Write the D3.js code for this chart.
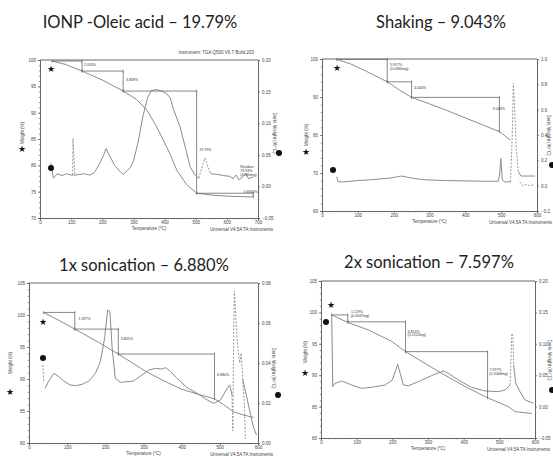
<!DOCTYPE html>
<html>
<head>
<meta charset="utf-8">
<script src="https://cdn.jsdelivr.net/npm/d3@7/dist/d3.min.js"></script>
<style>
  body { margin: 0; background: #fff; }
  svg { display: block; }
</style>
</head>
<body>
<div id="chart"></div>
<script>
// ---- titles ----
const titles = ["IONP -Oleic acid \u2013 19.79%", "Shaking \u2013 9.043%",
                "1x sonication \u2013 6.880%", "2x sonication \u2013 7.597%"];

// ---- tick values ----
const xTicks700 = [0, 100, 200, 300, 400, 500, 600, 700];
const xTicks600 = [0, 100, 200, 300, 400, 500, 600];
const p1WTicks = [70, 75, 80, 85, 90, 95, 100];
const p1DTicks = [-0.05, 0, 0.05, 0.10, 0.15, 0.20];
const p2WTicks = [60, 70, 80, 90, 100];
const p2DTicks = [-0.2, 0, 0.2, 0.4, 0.6, 0.8, 1.0];
const p3WTicks = [80, 85, 90, 95, 100, 105];
const p3DTicks = [0, 0.02, 0.04, 0.06, 0.08];
const p4WTicks = [80, 85, 90, 95, 100, 105];
const p4DTicks = [-0.05, 0, 0.05, 0.10, 0.15, 0.20];

// ---- panel 1: IONP - oleic acid ----
const p1Weight = [[38,99.8],[80,99.2],[135,97.9],[200,96.2],[267,94.1],[310,92.5],[343,90.5],[370,87.8],
  [396,84.8],[420,81.8],[440,79.0],[470,76.4],[503,74.7],[560,74.3],[620,74.1],[685,74.0]];
const p1Deriv = [[35,0.037],[43,0.013],[55,0.02],[70,0.017],[85,0.02],[100,0.018],[105,0.018],[115,0.018],
  [140,0.02],[160,0.018],[175,0.022],[190,0.035],[205,0.05],[212,0.06],[222,0.05],[240,0.033],[260,0.022],
  [268,0.019],[280,0.025],[290,0.03],[300,0.04],[315,0.07],[330,0.11],[345,0.14],[358,0.152],[375,0.153],
  [395,0.15],[410,0.145],[418,0.14],[430,0.12],[450,0.094],[470,0.055],[482,0.031],[495,0.02],[503,0.016],
  [510,0.013]];
const p1DerivDash = [[[105,0.018],[106,0.076],[109,0.045],[112,0.018]],
  [[510,0.013],[520,0.03],[530,0.045],[540,0.03],[548,0.02]]];
const p1DerivTail = [[548,0.02],[570,0.019],[590,0.017],[610,0.016],[620,0.012],[630,0.018],[640,0.01],
  [650,0.015],[660,0.02],[670,0.012],[685,0.015]];
const p1Steps = [[38,99.8,135,97.9],[135,97.9,267,94.1],[267,94.1,503,74.7],[503,74.7,685,74.0]];
const p1Labels = [["2.053%",137,99.05],["3.839%",273,96.3],["19.79%",508,82.9],["Residue:",640,79.7],
  ["73.93%",640,79.0],["(4.960mg)",640,78.3],["0.6663%",650,75.0]];

// ---- panel 2: shaking ----
const p2Weight = [[41,99.9],[80,98.7],[125,96.7],[182,94.0],[215,91.9],[250,89.9],[300,88.2],[350,86.4],
  [400,84.5],[450,82.6],[495,80.9],[525,78.7]];
const p2Deriv = [[41,0.07],[45,0.03],[60,0.03],[100,0.04],[150,0.05],[190,0.06],[222,0.076],[250,0.06],
  [283,0.047],[350,0.04],[450,0.035],[492,0.035],[496,0.1],[499,0.216],[503,0.05],[508,0.03],[525,0.03]];
const p2DerivDash = [[[526,0.03],[531,0.4],[534,0.81],[538,0.6],[542,0.3],[548,0.11]],
  [[552,0.03],[560,0.0],[570,0.01],[580,0.0],[594,0.01]]];
const p2DerivTail = [[548,0.11],[555,0.076],[594,0.076]];
const p2Steps = [[41,99.9,182,94.0],[182,94.0,250,89.9],[250,89.9,495,80.9]];
const p2Labels = [["5.917%",187,98.6],["(0.0380mg)",187,97.4],["4.044%",254,92.5],["9.043%",474,86.8]];

// ---- panel 3: 1x sonication ----
const p3Weight = [[38,100.4],[80,99.1],[120,97.8],[180,95.8],[234,93.9],[300,91.4],[350,89.8],[400,88.4],
  [450,87.5],[486,86.9],[510,86.0],[535,84.9],[560,84.4],[588,84.0]];
const p3Deriv = [[42,0.0273],[51,0.0307],[65,0.0348],[78,0.0332],[91,0.031],[108,0.029],[122,0.0287],
  [139,0.0293],[157,0.031],[174,0.0348],[187,0.0407],[198,0.0523],[206,0.0665],[212,0.0657],[218,0.0473],
  [226,0.0323],[240,0.0303],[274,0.031],[296,0.034],[314,0.0365],[331,0.0373],[349,0.037],[358,0.0377],
  [371,0.0357],[388,0.0323],[414,0.0277],[441,0.0248],[467,0.0215],[484,0.0198],[502,0.0215],[519,0.0273],
  [526,0.029],[532,0.024]];
const p3DerivDash = [[[36,0.039],[39,0.03]],
  [[532,0.024],[534,0.006],[536,0.05],[538,0.076],[541,0.066],[546,0.05],[552,0.04],[556,0.045],
   [560,0.032],[564,0.02],[567,0.002]]];
const p3DerivTail = [[560,0.032],[575,0.019],[588,0.008],[596,0.004]];
const p3Steps = [[38,100.4,120,97.8],[120,97.8,234,93.9],[234,93.9,486,86.9]];
const p3Labels = [["1.397%",127,99.4],["3.801%",238,96.25],["6.880%",490,90.6]];

// ---- panel 4: 2x sonication ----
const p4Weight = [[30,99.6],[75,98.4],[133,97.2],[198,95.4],[237,93.75],[329,90.6],[404,88.2],[467,86.4],
  [525,85.0],[544,84.2],[591,83.9]];
const p4Deriv = [[30,0.146],[33,0.0318],[39,0.0371],[58,0.0408],[86,0.0344],[114,0.0291],[142,0.0307],
  [180,0.0344],[200,0.0424],[215,0.0674],[222,0.053],[231,0.0344],[245,0.0333],[273,0.0397],[310,0.0493],
  [343,0.0567],[357,0.053],[385,0.0424],[422,0.0307],[460,0.0249],[497,0.0238],[516,0.0265],[530,0.0344]];
const p4DerivDash = [[[530,0.0344],[533,0.0822],[535,0.1167],[538,0.114],[540,0.0663]]];
const p4DerivTail = [[540,0.0663],[546,0.0371],[558,0.0238],[572,0.0106],[596,0.0053]];
const p4Steps = [[30,99.6,75,98.5],[75,98.5,237,93.75],[237,93.75,467,86.4]];
const p4Labels = [["1.129%",81,100.1],["(0.0347mg)",81,99.4],["6.814%",240,97.0],["(0.1510mg)",240,96.4],
  ["7.597%",469,90.8],["(0.2068mg)",469,90.2]];

// ---- layout of the four panels ----
const panels = [
  { title: titles[0], tx: 140, ty: 28, box: [40, 258, 60, 218], xMax: 700, xTicks: xTicks700,
    wDom: [70, 100], wTicks: p1WTicks, dDom: [-0.05, 0.20], dTicks: p1DTicks, dFmt: d3.format(".2f"),
    weight: p1Weight, deriv: p1Deriv, dash: p1DerivDash, tail: p1DerivTail, steps: p1Steps, labels: p1Labels,
    star: [51, 69], dia: [51, 168], lLab: [22, 133], lStar: [22, 149], rLab: [275, 133], rDia: [279, 153],
    instrument: true },
  { title: titles[1], tx: 441, ty: 28, box: [322, 537, 59, 211], xMax: 600, xTicks: xTicks600,
    wDom: [60, 100], wTicks: p2WTicks, dDom: [-0.2, 1.0], dTicks: p2DTicks, dFmt: d3.format(".1f"),
    weight: p2Weight, deriv: p2Deriv, dash: p2DerivDash, tail: p2DerivTail, steps: p2Steps, labels: p2Labels,
    star: [337, 68], dia: [333, 170], lLab: [306, 135], lStar: [306, 152], rLab: [549, 135], rDia: [552, 165] },
  { title: titles[2], tx: 144, ty: 271, box: [29, 258, 283, 443], xMax: 600, xTicks: xTicks600,
    wDom: [80, 105], wTicks: p3WTicks, dDom: [0, 0.08], dTicks: p3DTicks, dFmt: d3.format(".2f"),
    weight: p3Weight, deriv: p3Deriv, dash: p3DerivDash, tail: p3DerivTail, steps: p3Steps, labels: p3Labels,
    star: [43, 322], dia: [43, 358], lLab: [10, 363], lStar: [10, 392], rLab: [274, 368], rDia: [278, 395] },
  { title: titles[3], tx: 429, ty: 268, box: [321, 535, 281, 438], xMax: 600, xTicks: xTicks600,
    wDom: [80, 105], wTicks: p4WTicks, dDom: [-0.05, 0.20], dTicks: p4DTicks, dFmt: d3.format(".2f"),
    weight: p4Weight, deriv: p4Deriv, dash: p4DerivDash, tail: p4DerivTail, steps: p4Steps, labels: p4Labels,
    star: [331, 305], dia: [326, 322], lLab: [305, 352], lStar: [305, 373], rLab: [550, 360], rDia: [552, 390] }
];

const W = 553, H = 456;
const svg = d3.select("#chart").append("svg").attr("width", W).attr("height", H);

const curveCol = "#8c8c8c", stepCol = "#6a6a6a", axisCol = "#666", tickFont = "Liberation Sans, Arial, sans-serif";

function drawPanel(p) {
  const [x0, x1, y0, y1] = p.box;
  const x = d3.scaleLinear().domain([0, p.xMax]).range([x0, x1]);
  const yW = d3.scaleLinear().domain(p.wDom).range([y1, y0]);
  const yD = d3.scaleLinear().domain(p.dDom).range([y1, y0]);
  const g = svg.append("g");

  // title
  g.append("text").attr("x", p.tx).attr("y", p.ty).attr("text-anchor", "middle")
    .attr("font-family", "Lato, 'Open Sans', sans-serif").attr("font-size", 16.5).attr("fill", "#222")
    .text(p.title);

  // axes: major ticks with labels, minor ticks without
  g.append("g").attr("transform", `translate(0,${y1})`)
    .call(d3.axisBottom(x).tickValues(p.xTicks).tickSize(2).tickPadding(1).tickFormat(d3.format("d")));
  g.append("g").attr("transform", `translate(0,${y1})`)
    .call(d3.axisBottom(x).ticks(p.xMax / 20).tickSize(1.2).tickFormat(""));
  g.append("g").attr("transform", `translate(${x0},0)`)
    .call(d3.axisLeft(yW).tickValues(p.wTicks).tickSize(2).tickPadding(2));
  g.append("g").attr("transform", `translate(${x0},0)`)
    .call(d3.axisLeft(yW).ticks(25).tickSize(1.2).tickFormat(""));
  g.append("g").attr("transform", `translate(${x1},0)`)
    .call(d3.axisRight(yD).tickValues(p.dTicks).tickSize(2).tickPadding(2).tickFormat(p.dFmt));
  g.append("g").attr("transform", `translate(${x1},0)`)
    .call(d3.axisRight(yD).ticks(25).tickSize(1.2).tickFormat(""));
  g.selectAll(".domain").attr("stroke", axisCol);
  g.selectAll(".tick line").attr("stroke", axisCol).attr("stroke-width", 0.7);
  g.selectAll(".tick text").attr("font-size", 4.5).attr("font-family", tickFont).attr("fill", "#444");
  // top edge of the frame
  g.append("line").attr("x1", x0).attr("x2", x1).attr("y1", y0).attr("y2", y0)
    .attr("stroke", axisCol);

  // axis titles
  const small = (sel) => sel.attr("font-family", tickFont).attr("font-size", 4.5).attr("fill", "#444");
  small(g.append("text").attr("x", (x0 + x1) / 2).attr("y", y1 + 12).attr("text-anchor", "middle")
    .text("Temperature (\u00b0C)"));
  small(g.append("text").attr("x", Math.min(x1 + 15, W - 1)).attr("y", y1 + 12.5).attr("font-size", 3.6)
    .attr("text-anchor", "end").text("Universal V4.5A TA Instruments"));
  small(g.append("text").attr("transform", `translate(${p.lLab[0]},${p.lLab[1]}) rotate(-90)`)
    .attr("text-anchor", "middle").attr("dy", "0.35em").text("Weight (%)"));
  small(g.append("text").attr("transform", `translate(${p.rLab[0]},${p.rLab[1]}) rotate(90)`)
    .attr("text-anchor", "middle").attr("dy", "0.35em").text("Deriv. Weight (%/\u00b0C)"));
  if (p.instrument) {
    small(g.append("text").attr("x", x1 - 4).attr("y", y0 - 6).attr("text-anchor", "end")
      .attr("font-size", 3.8).text("Instrument: TGA Q500 V6.7 Build 203"));
  }

  // curves
  const lw = d3.line().x(d => x(d[0])).y(d => yW(d[1]));
  const ld = d3.line().x(d => x(d[0])).y(d => yD(d[1]));
  g.append("path").attr("d", lw(p.weight)).attr("fill", "none").attr("stroke", curveCol).attr("stroke-width", 1);
  g.append("path").attr("d", ld(p.deriv)).attr("fill", "none").attr("stroke", curveCol).attr("stroke-width", 1);
  g.append("path").attr("d", ld(p.tail)).attr("fill", "none").attr("stroke", curveCol).attr("stroke-width", 1);
  p.dash.forEach(s => {
    g.append("path").attr("d", ld(s)).attr("fill", "none").attr("stroke", curveCol)
      .attr("stroke-width", 0.9).attr("stroke-dasharray", "2,1.5");
  });

  // step brackets
  p.steps.forEach(s => {
    const [ta, wa, tb, wb] = s;
    g.append("path")
      .attr("d", `M${x(ta)},${yW(wa)}H${x(tb)}V${yW(wb)}`)
      .attr("fill", "none").attr("stroke", stepCol).attr("stroke-width", 0.8);
    [[ta, wa], [tb, wa], [tb, wb]].forEach(pt => {
      g.append("line").attr("x1", x(pt[0])).attr("x2", x(pt[0]))
        .attr("y1", yW(pt[1]) - 1.5).attr("y2", yW(pt[1]) + 1.5).attr("stroke", stepCol).attr("stroke-width", 0.6);
    });
  });
  p.labels.forEach(l => {
    g.append("text").attr("x", x(l[1]) + 1).attr("y", yW(l[2])).attr("dy", "0.35em")
      .attr("font-family", tickFont).attr("font-size", 3.6).attr("fill", "#333").text(l[0]);
  });

  // markers
  const mk = (pt, ch, fs) => g.append("text").attr("x", pt[0]).attr("y", pt[1]).attr("dy", "0.35em")
    .attr("text-anchor", "middle").attr("font-family", "DejaVu Sans").attr("font-size", fs)
    .attr("fill", "#111").text(ch);
  mk(p.star, "\u2605", 9);
  mk(p.lStar, "\u2605", 9);
  g.append("circle").attr("cx", p.dia[0]).attr("cy", p.dia[1]).attr("r", 3).attr("fill", "#111");
  g.append("circle").attr("cx", p.rDia[0]).attr("cy", p.rDia[1]).attr("r", 3).attr("fill", "#111");
}

panels.forEach(drawPanel);
</script>
</body>
</html>
